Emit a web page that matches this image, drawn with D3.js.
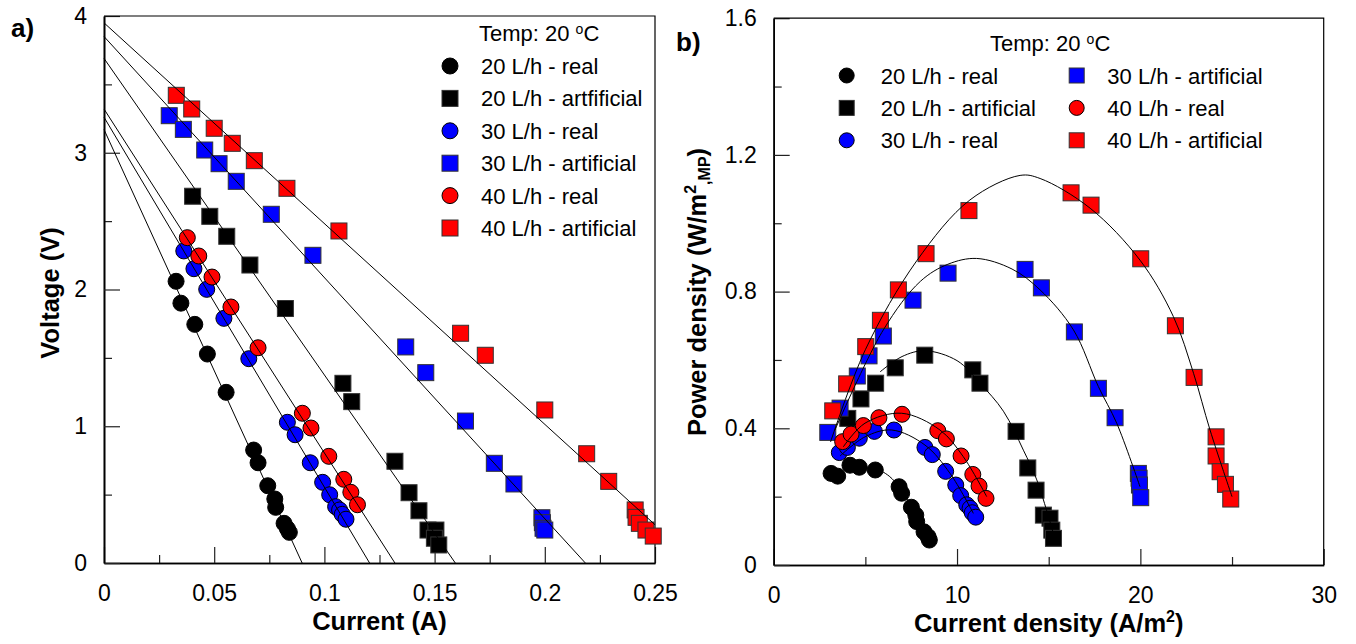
<!DOCTYPE html>
<html>
<head>
<meta charset="utf-8">
<script src="https://cdn.jsdelivr.net/npm/d3@7"></script>
<style>
body { margin: 0; background: #fff; }
svg { display: block; }
</style>
</head>
<body>
<script>
// ---- a) polarisation data, [current (A), voltage (V)] ----
var iv20Real = [[0.0327,2.06],[0.0349,1.90],[0.0412,1.745],[0.0469,1.528],[0.0554,1.248],[0.0679,0.826],[0.0699,0.733],[0.0743,0.565],[0.0775,0.468],[0.0779,0.407],[0.0817,0.29],[0.0832,0.251],[0.0841,0.224]];
var iv20Art = [[0.0402,2.682],[0.048,2.535],[0.0557,2.389],[0.0662,2.179],[0.0823,1.861],[0.1084,1.314],[0.1124,1.18],[0.132,0.744],[0.1384,0.514],[0.1429,0.382],[0.147,0.241],[0.1506,0.241],[0.1499,0.181],[0.1519,0.132]];
var iv30Real = [[0.0362,2.282],[0.0408,2.152],[0.0466,2.001],[0.0544,1.789],[0.0657,1.494],[0.0832,1.029],[0.0867,0.938],[0.0936,0.733],[0.0992,0.59],[0.1024,0.499],[0.1051,0.412],[0.1069,0.388],[0.1081,0.356],[0.1098,0.32]];
var iv30Art = [[0.0296,3.271],[0.036,3.171],[0.0457,3.02],[0.0522,2.92],[0.06,2.791],[0.0759,2.55],[0.0948,2.25],[0.1369,1.58],[0.146,1.392],[0.164,1.038],[0.1771,0.729],[0.186,0.578],[0.1987,0.331],[0.1989,0.295],[0.1992,0.254],[0.2,0.241]];
var iv40Real = [[0.0378,2.379],[0.043,2.245],[0.049,2.091],[0.0576,1.872],[0.0699,1.574],[0.09,1.095],[0.0939,0.987],[0.102,0.78],[0.1088,0.612],[0.112,0.517],[0.115,0.426]];
var iv40Art = [[0.0328,3.42],[0.0398,3.32],[0.05,3.179],[0.0582,3.069],[0.0682,2.942],[0.083,2.74],[0.1066,2.428],[0.1618,1.68],[0.173,1.519],[0.2,1.119],[0.219,0.799],[0.229,0.597],[0.241,0.388],[0.2414,0.334],[0.2429,0.29],[0.2459,0.241],[0.2492,0.197]];

// linear fits, end points as drawn
var ivFit20Real = [[0,3.17],[0.0899,0]];
var ivFit20Art = [[0,3.69],[0.1594,0]];
var ivFit30Real = [[0,3.26],[0.1205,0]];
var ivFit30Art = [[0,3.85],[0.2184,0]];
var ivFit40Real = [[0,3.32],[0.132,0]];
var ivFit40Art = [[0,3.95],[0.25,0.28]];

// ---- b) power data, [current density (A/m2), power density (W/m2,MP)] ----
var pd20Real = [[3.13,0.268],[3.49,0.26],[4.16,0.292],[4.67,0.286],[5.54,0.278],[6.84,0.229],[6.98,0.21],[7.51,0.169],[7.75,0.146],[7.8,0.127],[8.2,0.097],[8.42,0.083],[8.49,0.073]];
var pd20Art = [[4.04,0.429],[4.76,0.486],[5.56,0.532],[6.63,0.577],[8.24,0.614],[10.86,0.571],[11.25,0.532],[13.22,0.391],[13.86,0.284],[14.31,0.219],[14.71,0.146],[15.07,0.137],[15.17,0.102],[15.26,0.078]];
var pd30Real = [[3.58,0.329],[4.02,0.344],[4.67,0.371],[5.49,0.391],[6.56,0.395],[8.25,0.344],[8.65,0.323],[9.38,0.274],[9.93,0.234],[10.2,0.203],[10.53,0.176],[10.71,0.166],[10.83,0.153],[11.02,0.14]];
var pd30Art = [[2.95,0.388],[3.62,0.459],[4.56,0.553],[5.2,0.612],[5.98,0.67],[7.6,0.775],[9.51,0.854],[13.71,0.865],[14.6,0.811],[16.4,0.682],[17.71,0.517],[18.62,0.431],[19.89,0.268],[19.93,0.254],[19.95,0.234],[20.02,0.197]];
var pd40Real = [[3.76,0.361],[4.22,0.383],[4.89,0.408],[5.74,0.431],[7.0,0.441],[8.95,0.393],[9.42,0.369],[10.22,0.319],[10.86,0.265],[11.2,0.231],[11.58,0.195]];
var pd40Art = [[3.22,0.451],[3.98,0.53],[5.02,0.639],[5.82,0.716],[6.8,0.805],[8.31,0.911],[10.65,1.037],[16.22,1.089],[17.31,1.053],[20.02,0.896],[21.91,0.7],[22.93,0.549],[24.13,0.375],[24.13,0.319],[24.35,0.273],[24.64,0.236],[24.93,0.193]];

// fitted curves, points
var pdFit20Real = [[5.55,0.285],[6.3,0.26],[6.9,0.225],[7.6,0.165],[8.2,0.105],[8.65,0.055]];
var pdFit20Art = [[5.8,0.565],[7.0,0.61],[8.25,0.627],[10.0,0.598],[11.25,0.532],[12.53,0.45],[13.62,0.336],[14.35,0.249],[15.25,0.093]];
var pdFit30Real = [[3.62,0.319],[4.98,0.375],[6.44,0.395],[8.25,0.351],[9.62,0.268],[10.89,0.151]];
var pdFit30Art = [[3.34,0.395],[5.98,0.688],[8.0,0.83],[9.5,0.88],[11.07,0.897],[13.0,0.866],[14.53,0.805],[16.35,0.688],[17.71,0.522],[18.71,0.415],[19.98,0.229]];
var pdFit40Real = [[3.8,0.346],[4.98,0.415],[6.98,0.444],[9.07,0.395],[10.34,0.317],[11.62,0.2]];
var pdFit40Art = [[3.1,0.36],[5.0,0.63],[7.8,0.89],[10.7,1.068],[13.44,1.14],[14.53,1.131],[17.26,1.044],[19.98,0.892],[21.8,0.727],[22.9,0.561],[23.8,0.395],[25.0,0.2]];

// labels and ticks
var legendA = ['20 L/h - real', '20 L/h - artfificial', '30 L/h - real', '30 L/h - artificial', '40 L/h - real', '40 L/h - artificial'];
var legendB = ['20 L/h - real', '20 L/h - artificial', '30 L/h - real', '30 L/h - artificial', '40 L/h - real', '40 L/h - artificial'];
var xTicksA = [0, 0.05, 0.1, 0.15, 0.2, 0.25], xMinorA = [0.025, 0.075, 0.125, 0.175, 0.225];
var yTicksA = [0, 1, 2, 3, 4], yMinorA = [0.5, 1.5, 2.5, 3.5];
var xTicksB = [0, 10, 20, 30], xMinorB = [5, 15, 25];
var yTicksB = [0, 0.4, 0.8, 1.2, 1.6], yMinorB = [0.2, 0.6, 1.0, 1.4];

var colors = ['#000000', '#000000', '#0000ff', '#0000ff', '#ff0000', '#ff0000'];
var shapes = ['circle', 'square', 'circle', 'square', 'circle', 'square'];

var seriesA = [iv20Real, iv20Art, iv30Real, iv30Art, iv40Real, iv40Art];
var fitsA = [ivFit20Real, ivFit20Art, ivFit30Real, ivFit30Art, ivFit40Real, ivFit40Art];
var seriesB = [pd20Real, pd20Art, pd30Real, pd30Art, pd40Real, pd40Art];
var fitsB = [pdFit20Real, pdFit20Art, pdFit30Real, pdFit30Art, pdFit40Real, pdFit40Art];

var font = "'Liberation Sans', Arial, Helvetica, sans-serif";

var svg = d3.select('body').append('svg').attr('width', 1356).attr('height', 644)
	.attr('font-family', font);

// scales
var xA = d3.scaleLinear().domain([0, 0.25]).range([104, 655]);
var yA = d3.scaleLinear().domain([0, 4]).range([563, 16]);
var xB = d3.scaleLinear().domain([0, 30]).range([773.7, 1323.7]);
var yB = d3.scaleLinear().domain([0, 1.6]).range([565, 18.2]);

function marker(g, shape, color, cx, cy, size)  {
	if (shape == 'circle')
		g.append('circle').attr('cx', cx).attr('cy', cy).attr('r', size/2)
			.attr('fill', color).attr('stroke', '#000').attr('stroke-width', 1);
	else
		g.append('rect').attr('x', cx - size/2).attr('y', cy - size/2).attr('width', size).attr('height', size)
			.attr('fill', color).attr('stroke', '#333').attr('stroke-width', 1);
}

function frame(x, y, xMajor, xMinor, yMajor, yMinor)  {
	var g = svg.append('g');
	var x0 = x.range()[0], x1 = x.range()[1], y0 = y.range()[0], y1 = y.range()[1];
	var fmt = d3.format('~g');
	// minor ticks
	g.append('g').attr('transform', 'translate(0,'+y0+')')
		.call(d3.axisBottom(x).tickValues(xMinor).tickSizeInner(-8).tickSizeOuter(0).tickFormat(''));
	g.append('g').attr('transform', 'translate('+x0+',0)')
		.call(d3.axisLeft(y).tickValues(yMinor).tickSizeInner(-8).tickSizeOuter(0).tickFormat(''));
	// major ticks + labels
	g.append('g').attr('transform', 'translate(0,'+y0+')')
		.call(d3.axisBottom(x).tickValues(xMajor).tickSizeInner(-16).tickSizeOuter(0).tickPadding(22).tickFormat(fmt));
	g.append('g').attr('transform', 'translate('+x0+',0)')
		.call(d3.axisLeft(y).tickValues(yMajor).tickSizeInner(-16).tickSizeOuter(0).tickPadding(17).tickFormat(fmt));
	g.selectAll('text').attr('font-family', font).attr('font-size', 23).attr('fill', '#000');
	g.selectAll('.tick line').attr('stroke', '#222').attr('stroke-width', 1.2);
	g.selectAll('.domain').attr('stroke', '#000').attr('stroke-width', 1.6);
	// top and right edges
	g.append('path').attr('d', 'M'+x0+','+y1+'H'+x1+'V'+y0)
		.attr('fill', 'none').attr('stroke', '#000').attr('stroke-width', 1.2);
}

function points(x, y, series, fits, curve)  {
	var g = svg.append('g');
	series.forEach(function(d, i)  {
		d.forEach(function(p)  { marker(g, shapes[i], colors[i], x(p[0]), y(p[1]), 16); });
	});
	var line = d3.line().x(function(p) { return x(p[0]); }).y(function(p) { return y(p[1]); });
	if (curve) line.curve(curve);
	g.selectAll('path.fit').data(fits).enter().append('path').attr('class', 'fit')
		.attr('d', line).attr('fill', 'none').attr('stroke', '#000').attr('stroke-width', 1);
}

// ---- panel a ----
frame(xA, yA, xTicksA, xMinorA, yTicksA, yMinorA);
points(xA, yA, seriesA, fitsA, null);

svg.append('text').text('Current (A)').attr('x', 379.5).attr('y', 630)
	.attr('text-anchor', 'middle').attr('font-weight', 'bold').attr('font-size', 25.5);
svg.append('text').text('Voltage (V)').attr('transform', 'translate(59,293) rotate(-90)')
	.attr('text-anchor', 'middle').attr('font-weight', 'bold').attr('font-size', 25.5);
svg.append('text').text('a)').attr('x', 11).attr('y', 37).attr('font-weight', 'bold').attr('font-size', 26);

var tA = svg.append('text').attr('x', 479).attr('y', 41).attr('font-size', 22);
tA.append('tspan').text('Temp: 20 ');
tA.append('tspan').text('o').attr('font-size', 14).attr('dy', -7);
tA.append('tspan').text('C').attr('dy', 7);

var legA = svg.append('g');
legendA.forEach(function(name, i)  {
	var cy = 66 + i*32.4;
	marker(legA, shapes[i], colors[i], 450, cy, 16);
	legA.append('text').text(name).attr('x', 481).attr('y', cy + 8).attr('font-size', 22);
});

// ---- panel b ----
frame(xB, yB, xTicksB, xMinorB, yTicksB, yMinorB);
points(xB, yB, seriesB, fitsB, d3.curveCatmullRom.alpha(0.5));

var xt = svg.append('text').attr('x', 1048.7).attr('y', 632)
	.attr('text-anchor', 'middle').attr('font-weight', 'bold').attr('font-size', 25.5);
xt.append('tspan').text('Current density (A/m');
xt.append('tspan').text('2').attr('font-size', 16).attr('dy', -10);
xt.append('tspan').text(')').attr('dy', 10);

var yt = svg.append('text').attr('transform', 'translate(706,292) rotate(-90)')
	.attr('text-anchor', 'middle').attr('font-weight', 'bold').attr('font-size', 25.5);
yt.append('tspan').text('Power density (W/m');
yt.append('tspan').text('2').attr('font-size', 16).attr('dy', -10);
yt.append('tspan').text(',MP').attr('font-size', 16).attr('dy', 14);
yt.append('tspan').text(')').attr('dy', -4);

svg.append('text').text('b)').attr('x', 676).attr('y', 51).attr('font-weight', 'bold').attr('font-size', 26);

var tB = svg.append('text').attr('x', 990).attr('y', 51).attr('font-size', 22);
tB.append('tspan').text('Temp: 20 ');
tB.append('tspan').text('o').attr('font-size', 14).attr('dy', -7);
tB.append('tspan').text('C').attr('dy', 7);

var legB = svg.append('g');
legendB.forEach(function(name, i)  {
	var col = Math.floor(i/3), row = i % 3;
	var cx = col ? 1076.7 : 846.7, cy = 75.5 + row*32.4;
	marker(legB, shapes[i], colors[i], cx, cy, 15);
	legB.append('text').text(name).attr('x', col ? 1107.3 : 880.7).attr('y', cy + 8).attr('font-size', 22);
});
</script>
</body>
</html>
